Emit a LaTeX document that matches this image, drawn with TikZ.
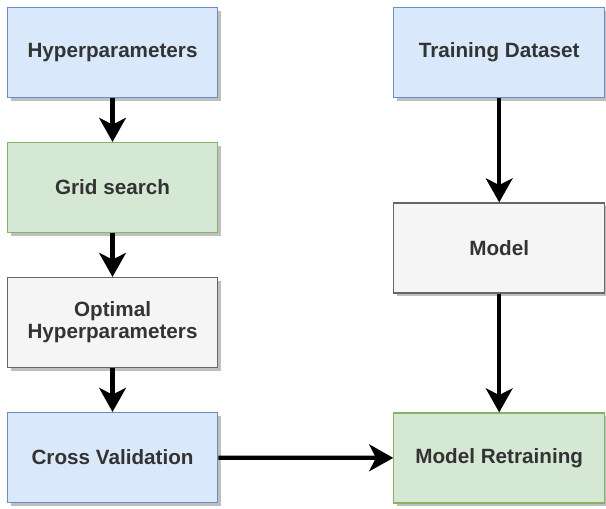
\documentclass[tikz,border=0pt]{standalone}
\usepackage{fontspec}
\setmainfont{Liberation Sans}
\usetikzlibrary{positioning,shadows,arrows.meta}

\definecolor{bluefill}{HTML}{DAE8FC}
\definecolor{blueline}{HTML}{6C8EBF}
\definecolor{greenfill}{HTML}{D5E8D4}
\definecolor{greenline}{HTML}{82B366}
\definecolor{grayfill}{HTML}{F5F5F5}
\definecolor{grayline}{HTML}{666666}
\definecolor{txt}{HTML}{333333}

\tikzset{
  box/.style={rectangle, draw, line width=0.9pt, minimum width=158pt, minimum height=67.5pt,
    align=center, text=txt, font=\fontsize{15.5pt}{16.5pt}\selectfont\bfseries,
    drop shadow={shadow xshift=2.5pt, shadow yshift=-2.5pt, fill=black, opacity=0.25}},
  bluebox/.style={box, fill=bluefill, draw=blueline},
  greenbox/.style={box, fill=greenfill, draw=greenline},
  graybox/.style={box, fill=grayfill, draw=grayline},
}

\begin{document}
\begin{tikzpicture}[->,>={Stealth[length=18pt,width=20pt,inset=5pt]},line width=3.2pt,on grid]
  \useasboundingbox (0,0) rectangle (454.5pt,-381pt);
  \node[bluebox] (hyper) at (84.4pt,-39.4pt) {Hyperparameters};
  \node[greenbox] (grid) [below=101.25pt of hyper] {Grid search};
  \node[graybox] (optimal) [below=101.25pt of grid] {Optimal\\Hyperparameters};
  \node[bluebox] (cross) [below=101.25pt of optimal] {Cross Validation};
  \node[bluebox] (data) [right=290pt of hyper] {Training Dataset};
  \node[graybox] (model) [below=146.6pt of data] {Model};
  \node[greenbox] (retrain) [below=157.5pt of model] {Model Retraining};
  \path
    (hyper) edge (grid)
    (grid) edge (optimal)
    (optimal) edge (cross)
    (data) edge (model)
    (model) edge (retrain)
    (cross) edge (retrain);
\end{tikzpicture}
\end{document}
